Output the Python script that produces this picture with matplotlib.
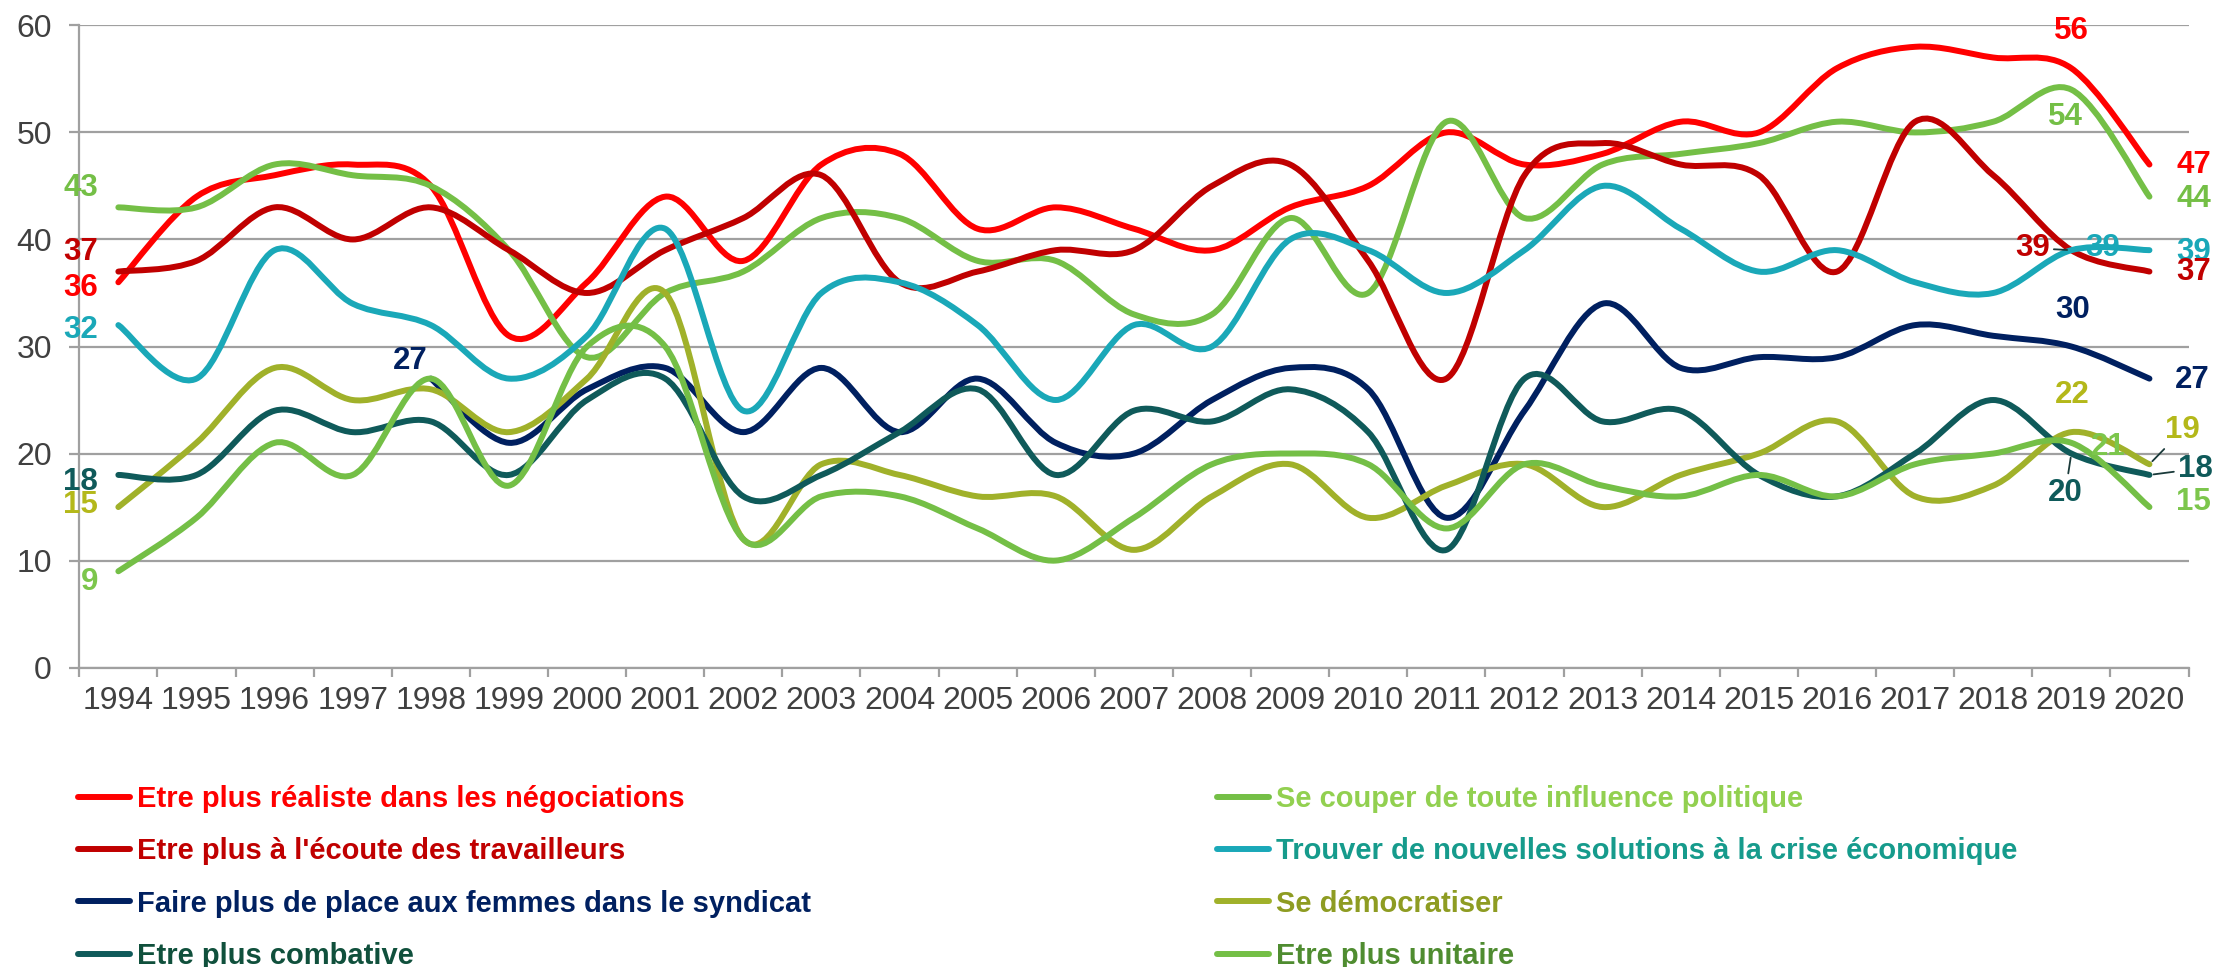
import matplotlib
matplotlib.use("Agg")
import matplotlib.pyplot as plt
from matplotlib.path import Path
from matplotlib.patches import PathPatch
from matplotlib.lines import Line2D
import numpy as np


YEARS = [str(y) for y in range(1994, 2021)]

REALISTE = [36, 44, 46, 47, 45, 31, 36, 44, 38, 47, 48, 41, 43, 41,
            39, 43, 45, 50, 47, 48, 51, 50, 56, 58, 57, 56, 47]
ECOUTE = [37, 38, 43, 40, 43, 39, 35, 39, 42, 46, 36, 37, 39, 39,
          45, 47, 38, 27, 46, 49, 47, 46, 37, 51, 46, 39, 37]
FEMMES = [None, None, None, None, 27, 21, 26, 28, 22, 28, 22, 27, 21, 20,
          25, 28, 26, 14, 24, 34, 28, 29, 29, 32, 31, 30, 27]
COMBATIVE = [18, 18, 24, 22, 23, 18, 25, 27, 16, 18, 22, 26, 18, 24,
             23, 26, 22, 11, 27, 23, 24, 18, 16, 20, 25, 20, 18]
POLITIQUE = [43, 43, 47, 46, 45, 39, 29, 35, 37, 42, 42, 38, 38, 33,
             33, 42, 35, 51, 42, 47, 48, 49, 51, 50, 51, 54, 44]
CRISE = [32, 27, 39, 34, 32, 27, 31, 41, 24, 35, 36, 32, 25, 32,
         30, 40, 39, 35, 39, 45, 41, 37, 39, 36, 35, 39, 39]
DEMOCRATISER = [15, 21, 28, 25, 26, 22, 27, 35, 12, 19, 18, 16, 16, 11,
                16, 19, 14, 17, 19, 15, 18, 20, 23, 16, 17, 22, 19]
UNITAIRE = [9, 14, 21, 18, 27, 17, 30, 30, 12, 16, 16, 13, 10, 14,
            19, 20, 19, 13, 19, 17, 16, 18, 16, 19, 20, 21, 15]

NAMES = {
    "realiste": "Etre plus réaliste dans les négociations",
    "ecoute": "Etre plus à l'écoute des travailleurs",
    "femmes": "Faire plus de place aux femmes dans le syndicat",
    "combative": "Etre plus combative",
    "politique": "Se couper de toute influence politique",
    "crise": "Trouver de nouvelles solutions à la crise économique",
    "democratiser": "Se démocratiser",
    "unitaire": "Etre plus unitaire",
}

# key: (values, line colour, value-label colour, legend text colour)
SERIES = {
    "realiste": (REALISTE, "#FF0000", "#FF0000", "#FF0000"),
    "politique": (POLITIQUE, "#74BF46", "#74BF46", "#92D050"),
    "ecoute": (ECOUTE, "#C00000", "#C00000", "#C00000"),
    "crise": (CRISE, "#1AA8B8", "#1AA8B8", "#169B8C"),
    "femmes": (FEMMES, "#002060", "#002060", "#002060"),
    "democratiser": (DEMOCRATISER, "#A0B12A", "#B4B81A", "#8E9C22"),
    "combative": (COMBATIVE, "#0F5A5A", "#0F5A5A", "#10503C"),
    "unitaire": (UNITAIRE, "#74BF46", "#7CC64C", "#4F8C30"),
}

# value labels: series, point index, offset (px), alignment, leader line
LABELS = [
    ("politique", 0, -20, 19, "right", False),
    ("ecoute", 0, -20, 20, "right", False),
    ("realiste", 0, -20, -6, "right", False),
    ("crise", 0, -20, -5, "right", False),
    ("combative", 0, -20, -7, "right", False),
    ("democratiser", 0, -20, 2, "right", False),
    ("unitaire", 0, -20, -11, "right", False),
    ("femmes", 4, -21, 18, "center", False),
    ("realiste", 25, 0, 37, "center", False),
    ("politique", 25, -6, -27, "center", False),
    ("ecoute", 25, -39, 2, "center", True),
    ("crise", 25, 31, 2, "center", False),
    ("femmes", 25, 1, 36, "center", False),
    ("democratiser", 25, 1, 37, "center", False),
    ("unitaire", 25, 37, -4, "center", False),
    ("combative", 25, -6, -39, "center", True),
    ("realiste", 26, 44, 0, "center", False),
    ("politique", 26, 44, -2, "center", False),
    ("crise", 26, 44, -2, "center", False),
    ("ecoute", 26, 44, 0, "center", False),
    ("femmes", 26, 43, -1, "center", False),
    ("democratiser", 26, 33, 34, "center", True),
    ("combative", 26, 46, 6, "center", True),
    ("unitaire", 26, 44, 5, "center", False),
]

FONT = "Liberation Sans"
GRID = "#A0A0A0"


def _smooth_path(values):
    # Excel style smoothed line: cubic Bezier through every point
    pts = [(i, v) for i, v in enumerate(values) if v is not None]
    pts = np.array(pts, dtype=float)
    ext = np.vstack([pts[:1], pts, pts[-1:]])
    verts = [pts[0]]
    codes = [Path.MOVETO]
    for k in range(len(pts) - 1):
        p0, p1, p2, p3 = ext[k], ext[k + 1], ext[k + 2], ext[k + 3]
        verts += [p1 + (p2 - p0) / 6, p2 - (p3 - p1) / 6, p2]
        codes += [Path.CURVE4] * 3
    return Path(verts, codes)


fig = plt.figure(figsize=(22.13, 9.67), dpi=100)
ax = fig.add_axes([79.3 / 2213, 1 - 667.6 / 967, (2188.5 - 79.3) / 2213, (667.6 - 25.4) / 967])

for key, (values, color, _, _) in SERIES.items():
    patch = PathPatch(_smooth_path(values), facecolor="none", edgecolor=color,
                      lw=4.3, capstyle="round", joinstyle="round", clip_on=False, zorder=3)
    ax.add_patch(patch)

for key, idx, dx, dy, ha, leader in LABELS:
    values, _, lcolor, _ = SERIES[key]
    val = values[idx]
    arrow = None
    if leader:
        arrow = dict(arrowstyle="-", color="#1A3A3A", lw=1.3, shrinkA=1, shrinkB=3)
    ax.annotate(str(val), xy=(idx, val), xytext=(dx, dy), textcoords="offset pixels",
                ha=ha, va="center", fontsize=22.5, fontweight="bold", family=FONT,
                color=lcolor, arrowprops=arrow, annotation_clip=False, zorder=5)

ax.set_xlim(-0.5, len(YEARS) - 0.5)
ax.set_ylim(0, 60)
ax.set_yticks(range(0, 61, 10))
ax.set_xticks(range(len(YEARS)), labels=YEARS)
ax.set_xticks(np.arange(-0.5, len(YEARS), 1.0), minor=True)
ax.yaxis.grid(True, color=GRID, lw=1.6, zorder=0)
ax.set_axisbelow(True)

for side in ("top", "right"):
    ax.spines[side].set_visible(False)
for side in ("left", "bottom"):
    ax.spines[side].set_color(GRID)
    ax.spines[side].set_linewidth(1.6)

ax.tick_params(axis="y", length=7.2, width=1.6, color=GRID, pad=12.5,
               labelsize=23, labelcolor="#404040")
ax.tick_params(axis="x", which="major", length=0, pad=13, labelsize=23, labelcolor="#404040")
ax.tick_params(axis="x", which="minor", length=6.5, width=1.6, color=GRID)
for lab in ax.get_xticklabels() + ax.get_yticklabels():
    lab.set_family(FONT)

left_keys = ["realiste", "ecoute", "femmes", "combative"]
right_keys = ["politique", "crise", "democratiser", "unitaire"]
for keys, x0 in ((left_keys, 78 / 2213), (right_keys, 1217 / 2213)):
    handles = [Line2D([], [], color=SERIES[k][1], lw=4.3, solid_capstyle="round") for k in keys]
    fig.legend(handles, [NAMES[k] for k in keys], loc="upper left",
               bbox_to_anchor=(x0, 1 - 785 / 967), frameon=False, borderpad=0,
               borderaxespad=0, handlelength=1.78, handletextpad=0.24, labelspacing=0.835,
               prop={"family": FONT, "weight": "bold", "size": 21},
               labelcolor=[SERIES[k][3] for k in keys])

fig.savefig("out.png", dpi=100)
